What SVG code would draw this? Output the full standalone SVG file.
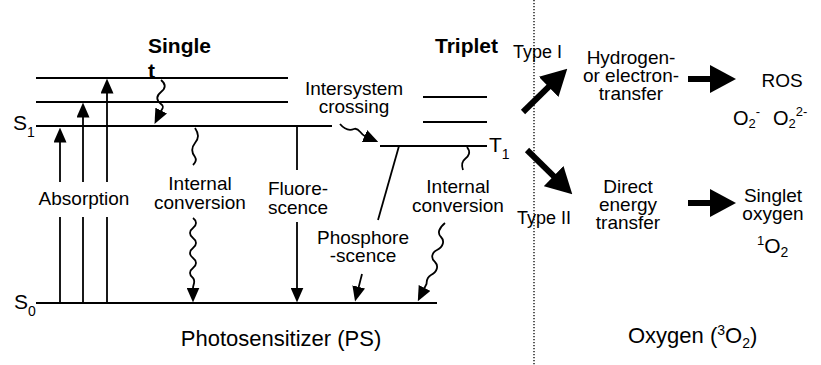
<svg xmlns="http://www.w3.org/2000/svg" width="821" height="365" viewBox="0 0 821 365">
  <style>
    text { font-family: "Liberation Sans", Arial, sans-serif; fill: #000; }
    .lbl { font-size: 19px; text-anchor: middle; }
    .title { font-size: 21px; font-weight: bold; }
    .state { font-size: 21px; }
    .big { font-size: 22px; }
    .level { stroke: #000; stroke-width: 2; fill: none; }
    .thin { stroke: #000; stroke-width: 1.8; fill: none; }
    .thick { stroke: #000; stroke-width: 6; fill: none; }
    .divider { stroke: #000; stroke-width: 1.3; stroke-dasharray: 1.3 1.7; fill: none; }
  </style>
  <defs>
    <marker id="head" viewBox="0 0 15 13" refX="0.5" refY="6.5" markerWidth="15" markerHeight="13" orient="auto" markerUnits="userSpaceOnUse">
      <path d="M0,0 L15,6.5 L0,13 z" fill="#000"/>
    </marker>
    <marker id="bighead" viewBox="0 0 26 28" refX="1" refY="14" markerWidth="26" markerHeight="28" orient="auto" markerUnits="userSpaceOnUse">
      <path d="M0,0 L26,14 L0,28 z" fill="#000"/>
    </marker>
  </defs>

  <!-- divider between photosensitizer and oxygen -->
  <line class="divider" x1="534" y1="0" x2="534" y2="365"/>

  <!-- singlet manifold -->
  <g id="singlet">
    <line class="level" x1="36" y1="78" x2="288" y2="78"/>
    <line class="level" x1="36" y1="102" x2="288" y2="102"/>
    <line class="level" x1="36" y1="126" x2="332" y2="126"/>
    <text class="title" x="148" y="53">Single</text>
    <text class="title" x="148" y="78">t</text>
    <text class="state" x="13" y="130">S<tspan font-size="14" dy="7">1</tspan></text>
  </g>

  <!-- triplet manifold -->
  <g id="triplet">
    <line class="level" x1="423" y1="97" x2="487" y2="97"/>
    <line class="level" x1="423" y1="122" x2="487" y2="122"/>
    <line class="level" x1="380" y1="146" x2="487" y2="146"/>
    <text class="title" x="435" y="53">Triplet</text>
    <text class="state" x="489" y="152">T<tspan font-size="14" dy="7">1</tspan></text>
  </g>

  <!-- ground state -->
  <g id="ground">
    <line class="level" x1="36" y1="303" x2="437" y2="303"/>
    <text class="state" x="14" y="309">S<tspan font-size="14" dy="7">0</tspan></text>
  </g>

  <!-- process labels -->
  <g id="absorption"><text class="lbl" x="84" y="205">Absorption</text></g>
  <g id="ic-singlet">
    <text class="lbl" x="200" y="190">Internal</text>
    <text class="lbl" x="200" y="209">conversion</text>
  </g>
  <g id="fluorescence">
    <text class="lbl" x="298" y="195">Fluore-</text>
    <text class="lbl" x="298" y="214">scence</text>
  </g>
  <g id="isc">
    <text class="lbl" x="354" y="95">Intersystem</text>
    <text class="lbl" x="354" y="113">crossing</text>
  </g>
  <g id="phosphorescence">
    <text class="lbl" x="363" y="244">Phosphore</text>
    <text class="lbl" x="363" y="262">-scence</text>
  </g>
  <g id="ic-triplet">
    <text class="lbl" x="458" y="193">Internal</text>
    <text class="lbl" x="458" y="212">conversion</text>
  </g>
  <g id="photosensitizer"><text class="big" x="281" y="346" text-anchor="middle">Photosensitizer (PS)</text></g>

  <!-- oxygen side -->
  <g id="type1">
    <text x="513" y="58" font-size="18">Type I</text>
    <text class="lbl" x="631" y="64">Hydrogen-</text>
    <text class="lbl" x="631" y="82">or electron-</text>
    <text class="lbl" x="631" y="100">transfer</text>
  </g>
  <g id="ros">
    <text class="lbl" x="782" y="87">ROS</text>
    <text x="733" y="125" font-size="20">O<tspan font-size="13" dy="3">2</tspan><tspan font-size="13" dy="-12">-</tspan></text>
    <text x="773" y="125" font-size="20">O<tspan font-size="13" dy="3">2</tspan><tspan font-size="13" dy="-12">2-</tspan></text>
  </g>
  <g id="type2">
    <text x="517" y="224" font-size="18">Type II</text>
    <text class="lbl" x="628" y="193">Direct</text>
    <text class="lbl" x="628" y="211">energy</text>
    <text class="lbl" x="628" y="229">transfer</text>
  </g>
  <g id="singlet-oxygen">
    <text class="lbl" x="773" y="202">Singlet</text>
    <text class="lbl" x="773" y="220">oxygen</text>
    <text x="757" y="253" font-size="21"><tspan font-size="13" dy="-8">1</tspan><tspan dy="8">O</tspan><tspan font-size="14" dy="4">2</tspan></text>
  </g>
  <g id="oxygen"><text class="big" x="628" y="343">Oxygen (<tspan font-size="14" dy="-8">3</tspan><tspan dy="8">O</tspan><tspan font-size="14" dy="5">2</tspan><tspan dy="-5">)</tspan></text></g>

  <!-- transitions -->
  <g id="connectors">
    <!-- absorption -->
    <line class="thin" x1="60" y1="303" x2="60" y2="217"/>
    <line class="thin" x1="83" y1="303" x2="83" y2="217"/>
    <line class="thin" x1="107" y1="303" x2="107" y2="217"/>
    <path class="thin" d="M60,182 L60,142" marker-end="url(#head)"/>
    <path class="thin" d="M83,182 L83,117" marker-end="url(#head)"/>
    <path class="thin" d="M107,182 L107,93" marker-end="url(#head)"/>
    <!-- vibrational relaxation in singlet -->
    <path class="thin" d="M161,80 C166,84 166,88 161,92 C156,96 156,100 161,104 C165,107 162,109 161,111" marker-end="url(#head)"/>
    <!-- internal conversion S1 to S0 -->
    <path class="thin" d="M195,128 C199,134 199,138 195,143 C191,148 191,152 195,157 C197,160 195,163 193,165"/>
    <path class="thin" d="M193,218 C197,221 197,225 193,228 C189,231 189,235 193,238 C197,241 197,245 193,248 C189,251 189,255 193,258 C197,261 197,265 193,268 C189,271 189,275 193,278 C196,281 193,285 193,288" marker-end="url(#head)"/>
    <!-- fluorescence -->
    <line class="thin" x1="297" y1="126" x2="297" y2="170"/>
    <path class="thin" d="M297,222 L297,288" marker-end="url(#head)"/>
    <!-- intersystem crossing -->
    <path class="thin" d="M340,124 C345,130 349,131 354,129 C359,127 360,134 365,136.2" marker-end="url(#head)"/>
    <!-- phosphorescence -->
    <line class="thin" x1="399" y1="146" x2="378" y2="220"/>
    <path class="thin" d="M362,274 L358.6,287.4" marker-end="url(#head)"/>
    <!-- internal conversion T1 to S0 -->
    <path class="thin" d="M467,147 C471,152 469,156 465,159 C461,162 462,167 463,170"/>
    <path class="thin" d="M445,223 C439,228 437,233 441,237 C445,241 443,247 437,250 C431,253 431,259 435,262 C439,266 437,272 431,275 C426,278 427,281 426.5,284 L424.3,288.4" marker-end="url(#head)"/>
    <!-- type I / type II pathways -->
    <path class="thick" d="M523,112 L549.4,86.2" marker-end="url(#bighead)"/>
    <path class="thick" d="M527,150 L554.4,176.8" marker-end="url(#bighead)"/>
    <path class="thick" d="M688,79 L711,79" marker-end="url(#bighead)"/>
    <path class="thick" d="M688,203 L711,203" marker-end="url(#bighead)"/>
  </g>
</svg>
